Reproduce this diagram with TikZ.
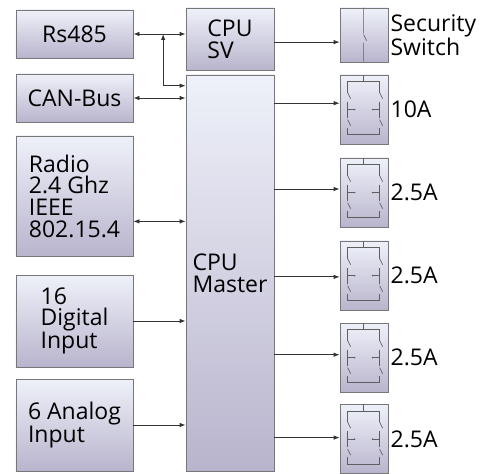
\documentclass[tikz,border=0pt]{standalone}
\usepackage{fontspec}
\setmainfont{Open Sans}
\usetikzlibrary{arrows.meta,calc}
\definecolor{boxtop}{HTML}{EEF1F9}
\definecolor{boxbot}{HTML}{B9B4CD}
\definecolor{boxline}{HTML}{777777}
\definecolor{wire}{HTML}{333333}
\tikzset{
  blk/.style={draw=boxline, line width=0.8bp, top color=boxtop, bottom color=boxbot,
    inner sep=0pt, align=left, font=\fontsize{23bp}{21.7bp}\selectfont},
  relaybox/.style={blk, minimum width=48bp, minimum height=69bp},
  lbl/.style={inner sep=2bp, align=left, font=\fontsize{23bp}{21.7bp}\selectfont},
  conn/.style={draw=wire, line width=0.8bp, -{Latex[length=6bp,width=4.5bp]}},
  biconn/.style={conn, {Latex[length=6bp,width=4.5bp]}-{Latex[length=6bp,width=4.5bp]}},
  contact/.style={draw=boxline!80!black, line width=0.7bp},
}
% relay symbol drawn inside a box, local coordinates from its top left corner
\newcommand{\relaysym}[1]{
  \begin{scope}[shift={(#1.north west)}]
    \draw[contact] (24,0) -- (24,7) (8,18) -- (8,7) -- (40,7) -- (40,18);
    \draw[contact] (8,18) -- (11,24) (40,18) -- (43,24);
    \draw[contact] (8,27) -- (8,43) (8,35) -- (15,35) (40,27) -- (40,43) (40,35) -- (33,35);
    \fill[boxline!80!black] (15,35) circle (0.9bp) (33,35) circle (0.9bp);
    \draw[contact] (8,45) -- (11,51) (40,45) -- (43,51);
    \draw[contact] (8,53) -- (8,60) -- (40,60) -- (40,53);
  \end{scope}
}
\begin{document}
\begin{tikzpicture}[x=1bp, y=-1bp]
  \useasboundingbox (0,0) rectangle (486,474);

  % input blocks
  \node[blk, minimum width=117bp, minimum height=48bp] (rs) at (74.5,34) {Rs485};
  \node[blk, minimum width=117bp, minimum height=48bp] (can) at (74.5,98) {CAN-Bus};
  \node[blk, minimum width=117bp, minimum height=120bp] (radio) at (74.5,196) {Radio\\2.4 Ghz\\IEEE\\802.15.4};
  \node[blk, minimum width=117bp, minimum height=92bp] (dig) at (74.5,321) {16\\Digital\\Input};
  \node[blk, minimum width=117bp, minimum height=92bp] (ana) at (74.5,425) {6 Analog\\Input};

  % processors
  \node[blk, minimum width=88bp, minimum height=62bp] (cpusv) at (230,39) {CPU\\SV};
  \node[blk, minimum width=88bp, minimum height=396bp] (cpum) at (230,273) {CPU\\Master};

  % security switch
  \node[blk, minimum width=48bp, minimum height=54bp] (sw) at (364,35) {};
  \begin{scope}[shift={(sw.north west)}]
    \draw[contact] (24,0) -- (24,26) (24,27) -- (27,33) (24,35) -- (24,54);
  \end{scope}
  \node[lbl, anchor=west] (swl) at (sw.east) {Security\\Switch};

  % connections on the left
  \draw[biconn] (rs.east) -- (rs.east -| cpusv.west);
  \coordinate (tap) at ($(rs.east)!0.57!(rs.east -| cpusv.west)$);
  \coordinate (mtap) at ($(cpum.north west)!0.028!(cpum.south west)$);
  \draw[biconn] (tap) |- (mtap);
  \draw[biconn] (can.east) -- (can.east -| cpum.west);
  \coordinate (rdo) at ($(radio.north east)!0.71!(radio.south east)$);
  \draw[biconn] (rdo) -- (rdo -| cpum.west);
  \draw[conn] (dig.east) -- (dig.east -| cpum.west);
  \draw[conn] (ana.east) -- (ana.east -| cpum.west);

  \coordinate (swin) at ($(sw.north west)!0.63!(sw.south west)$);
  \draw[conn] (swin -| cpusv.east) -- (swin);

  % relay outputs
  \foreach \n/\yc/\f/\cur in {1/109.5/0.41/10A, 2/192.5/0.45/2.5A, 3/275.5/0.52/2.5A, 4/357.5/0.46/2.5A, 5/439/0.48/2.5A} {
    \node[relaybox] (r\n) at (364,\yc) {};
    \relaysym{r\n}
    \node[lbl, anchor=west] (l\n) at (r\n.east) {\cur};
    \coordinate (a\n) at ($(r\n.north west)!\f!(r\n.south west)$);
    \draw[conn] (a\n -| cpum.east) -- (a\n);
  }

\end{tikzpicture}
\end{document}
